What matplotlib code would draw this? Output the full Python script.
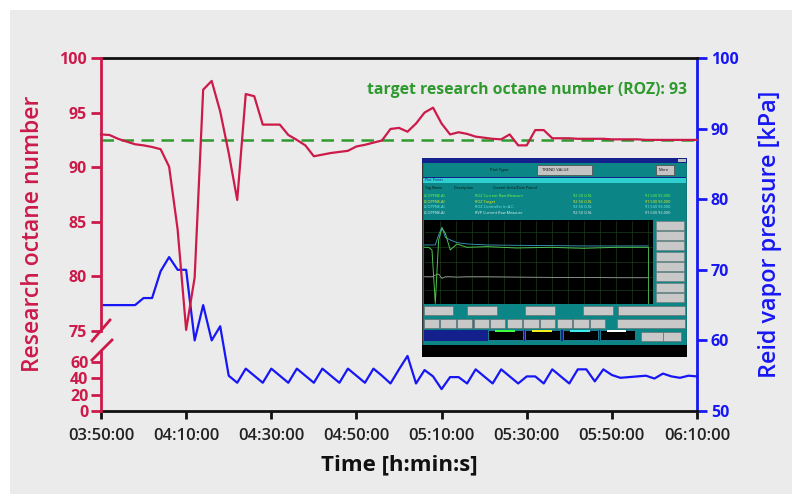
import matplotlib
matplotlib.use("Agg")
import matplotlib.pyplot as plt
from matplotlib.patches import Rectangle
from matplotlib.lines import Line2D

plt.rcParams['font.family'] = ['Open Sans', 'DejaVu Sans']

# minutes since 03:50:00, one sample every 2 minutes
minutes = list(range(0, 142, 2))

octane = [93.0, 92.95, 92.6, 92.35, 92.1, 92.0, 91.85, 91.65, 90.05, 84.3,
          75.1, 79.9, 97.1, 97.9, 95.1, 91.3, 87.0, 96.7, 96.5, 93.9,
          93.9, 93.9, 92.95, 92.5, 92.0, 91.0, 91.15, 91.3, 91.4, 91.5,
          91.9, 92.05, 92.25, 92.45, 93.5, 93.6, 93.25, 94.0, 95.0, 95.45,
          94.0, 93.0, 93.2, 93.05, 92.8, 92.7, 92.6, 92.55, 93.0, 92.0,
          92.0, 93.4, 93.4, 92.65, 92.65, 92.65, 92.6, 92.6, 92.6, 92.6,
          92.55, 92.55, 92.55, 92.55, 92.5, 92.5, 92.5, 92.5, 92.5, 92.5,
          92.5]

rvp = [65.0, 65.0, 65.0, 65.0, 65.0, 66.0, 66.0, 69.8, 71.8, 70.0,
       70.0, 60.0, 65.0, 60.0, 62.0, 55.0, 54.0, 56.0, 55.0, 54.0,
       56.0, 55.0, 54.0, 56.0, 55.0, 54.0, 56.0, 55.0, 54.0, 56.0,
       55.0, 54.0, 56.0, 55.0, 53.9, 55.9, 57.8, 53.9, 55.8, 54.9,
       53.1, 54.8, 54.8, 53.9, 55.9, 54.9, 53.9, 55.9, 54.9, 53.9,
       54.9, 54.9, 53.9, 55.9, 54.9, 53.9, 55.9, 55.9, 54.2, 55.9,
       55.1, 54.7, 54.8, 54.9, 55.0, 54.6, 55.3, 54.9, 54.7, 55.0,
       54.9]

target_ron = 92.5
target_label = "target research octane number (ROZ): 93"

xtick_minutes = [0, 20, 40, 60, 80, 100, 120, 140]
xtick_labels = ["03:50:00", "04:10:00", "04:30:00", "04:50:00",
                "05:10:00", "05:30:00", "05:50:00", "06:10:00"]
ron_ticks_top = [75, 80, 85, 90, 95, 100]
ron_ticks_bottom = [0, 20, 40, 60]
rvp_ticks = [50, 60, 70, 80, 90, 100]

# traces shown on the little control-system screenshot
screen_x = [72, 85, 95, 105, 115, 125, 135, 150, 170, 200, 260, 350, 450, 550, 650, 745]
screen_green = [292, 292, 300, 460, 270, 235, 250, 300, 282, 292, 290, 294, 292, 295, 292, 292]
screen_blue = [285, 285, 285, 285, 255, 232, 262, 270, 278, 282, 285, 286, 287, 288, 288, 288]
screen_grey = [380, 380, 380, 375, 372, 385, 380, 380, 381, 380, 380, 381, 382, 382, 383, 383]

RED = '#cc1a4a'
BLUE = '#1717f5'
GREEN = '#2e9a2e'
BG = '#ebebeb'
W, H = 792, 494


def fx(px):
    return px / W


def fy(py):
    return 1 - py / H


fig = plt.figure(figsize=(W / 100, H / 100), dpi=100, facecolor='white')
fig.patches.append(Rectangle((fx(10), 0), 1, fy(10), transform=fig.transFigure,
                             facecolor=BG, edgecolor='none', zorder=-10))

# full-height axes carries the RVP (right) scale and the frame
ax = fig.add_axes([fx(101), fy(411), fx(697) - fx(101), fy(58) - fy(411)])
ax.set_facecolor('none')
ax.plot(minutes, rvp, color=BLUE, lw=1.6, zorder=3)
ax.set_xlim(0, 140)
ax.set_ylim(50, 100)
ax.yaxis.tick_right()
ax.yaxis.set_label_position('right')
ax.set_yticks(rvp_ticks)
ax.set_xticks(xtick_minutes)
ax.set_xticklabels(xtick_labels)
ax.spines['left'].set_visible(False)
for s in ('top', 'bottom'):
    ax.spines[s].set_color('#111111')
    ax.spines[s].set_linewidth(2)
ax.spines['right'].set_color(BLUE)
ax.spines['right'].set_linewidth(2)
ax.tick_params(axis='y', colors=BLUE, length=7, width=2, labelsize=11.5, pad=3)
ax.tick_params(axis='x', colors='#111111', length=6, width=2, labelsize=12, pad=6)
for lab in ax.get_yticklabels():
    lab.set_fontweight('bold')
for lab in ax.get_xticklabels():
    lab.set_fontweight('semibold')
    lab.set_color('#222222')
ax.set_xlabel("Time [h:min:s]", fontsize=16, fontweight='bold', color='#111111', labelpad=8)
ax.set_ylabel("Reid vapor pressure [kPa]", fontsize=16.8, fontweight='semibold',
              color=BLUE, labelpad=14)

# upper part of the broken octane axis
ax_top = fig.add_axes([fx(101), fy(331), fx(697) - fx(101), fy(58) - fy(331)])
ax_top.set_facecolor('none')
ax_top.plot(minutes, octane, color=RED, lw=1.6, zorder=3, clip_on=False)
ax_top.axhline(target_ron, color=GREEN, lw=1.8, ls=(0, (5, 3)), zorder=2)
ax_top.text(0.983, 0.883, target_label, transform=ax_top.transAxes, ha='right',
            va='center', color=GREEN, fontsize=11.3, fontweight='bold')
ax_top.set_xlim(0, 140)
ax_top.set_ylim(75, 100)
ax_top.set_yticks(ron_ticks_top)
ax_top.set_xticks([])
for s in ('top', 'bottom', 'right'):
    ax_top.spines[s].set_visible(False)
ax_top.spines['left'].set_color(RED)
ax_top.spines['left'].set_linewidth(2)
ax_top.tick_params(axis='y', colors=RED, length=7, width=2, labelsize=11.5, pad=3)
for lab in ax_top.get_yticklabels():
    lab.set_fontweight('bold')

# lower part of the broken octane axis
ax_bot = fig.add_axes([fx(101), fy(411), fx(697) - fx(101), fy(352) - fy(411)])
ax_bot.set_facecolor('none')
ax_bot.set_xlim(0, 140)
ax_bot.set_ylim(0, 72.2)
ax_bot.set_yticks(ron_ticks_bottom)
ax_bot.set_xticks([])
for s in ('top', 'bottom', 'right'):
    ax_bot.spines[s].set_visible(False)
ax_bot.spines['left'].set_color(RED)
ax_bot.spines['left'].set_linewidth(2)
ax_bot.tick_params(axis='y', colors=RED, length=7, width=2, labelsize=11.5, pad=2)
for lab in ax_bot.get_yticklabels():
    lab.set_fontweight('bold')

fig.text(fx(33), fy(234), "Research octane number", rotation=90, ha='center',
         va='center', color=RED, fontsize=16.5, fontweight='semibold')

# break marks on the left axis
for (x0, y0, x1, y1) in [(92, 341, 110, 320), (92, 360, 112, 340)]:
    fig.add_artist(Line2D([fx(x0), fx(x1)], [fy(y0), fy(y1)], color=RED, lw=2,
                          transform=fig.transFigure))

# inset: screenshot of the control system trend display
ins = fig.add_axes([fx(422), fy(357), fx(687) - fx(422), fy(158) - fy(357)])
ins.set_xlim(65, 862)
ins.set_ylim(620, 25)
ins.axis('off')


def box(x0, y0, x1, y1, color, ec='none', lw=0.6):
    ins.add_patch(Rectangle((x0, y0), x1 - x0, y1 - y0, facecolor=color,
                            edgecolor=ec, lw=lw))


box(65, 25, 862, 620, '#0b8585', ec='#333333', lw=1)
box(65, 25, 862, 40, '#14208c')
box(835, 28, 858, 38, '#c0c0c0')
ins.text(270, 60, "Plot Type:", fontsize=3.0, color='#111111', va='center')
box(410, 45, 575, 75, '#c4c4c4', ec='#555555')
ins.text(425, 60, "TREND VALUE", fontsize=3.0, color='#111111', va='center')
box(768, 45, 822, 75, '#c4c4c4', ec='#555555')
ins.text(778, 60, "More", fontsize=3.0, color='#111111', va='center')
box(68, 82, 860, 100, '#2fcfcf')
box(68, 82, 860, 86, '#14208c')
ins.text(75, 92, "Plot Points", fontsize=2.6, color='#14208c', va='center')
ins.text(75, 115, "Tag Name            Description                    Current Units/Date Period",
         fontsize=2.6, color='#101010', va='center')
row_colors = ['#7dff3a', '#f0f020', '#7df0f0', '#f0f0f0']
row_text = ["ROZ Current Raw Measure", "ROZ Target", "ROZ Controller in A.C.",
            "RVP Current Raw Measure"]
for i, (c, t) in enumerate(zip(row_colors, row_text)):
    y = 140 + i * 16
    ins.text(70, y, "LCOPFNE.AI", fontsize=2.8, color=c, va='center')
    ins.text(225, y, t, fontsize=2.8, color=c, va='center')
    ins.text(520, y, "92.50 O.N.", fontsize=2.8, color=c, va='center')
    ins.text(735, y, "91.500 93.000", fontsize=2.8, color=c, va='center')
box(72, 210, 760, 462, '#000000')
for gx in range(120, 760, 48):
    ins.plot([gx, gx], [212, 460], color='#1f4a1f', lw=0.4)
for gy in [245, 290, 335, 380, 420]:
    ins.plot([74, 758], [gy, gy], color='#1f4a1f', lw=0.4)
ins.plot(screen_x, screen_grey, color='#9a9a9a', lw=0.6)
ins.plot(screen_x, screen_blue, color='#3aa0c8', lw=0.6)
ins.plot(screen_x, screen_green, color='#4fc24f', lw=0.7)
ins.plot([745, 745], [292, 460], color='#4fc24f', lw=0.6)
for i in range(8):
    y0 = 212 + i * 31
    box(768, y0, 854, y0 + 27, '#c8c8c8', ec='#777777', lw=0.4)
for x0, x1 in [(70, 158), (200, 292), (375, 465), (548, 638), (655, 855)]:
    box(x0, 468, x1, 495, '#c8c8c8', ec='#666666', lw=0.4)
for i in range(11):
    x0 = 70 + i * 50
    box(x0, 505, x0 + 46, 532, '#c8c8c8', ec='#666666', lw=0.4)
box(650, 505, 855, 532, '#c8c8c8', ec='#666666', lw=0.4)
box(70, 538, 710, 572, '#14208c')
for x0, c in [(265, '#40ff40'), (375, '#f0f020'), (490, '#40f0f0'), (600, '#ffffff')]:
    box(x0, 540, x0 + 105, 570, '#000000', ec='#2fcfcf', lw=0.4)
    box(x0 + 20, 538, x0 + 80, 545, c)
box(725, 545, 790, 572, '#c8c8c8', ec='#666666', lw=0.4)
box(790, 545, 845, 572, '#c8c8c8', ec='#666666', lw=0.4)
box(65, 585, 862, 620, '#000000')

fig.savefig("out.png", dpi=100, facecolor=fig.get_facecolor())
